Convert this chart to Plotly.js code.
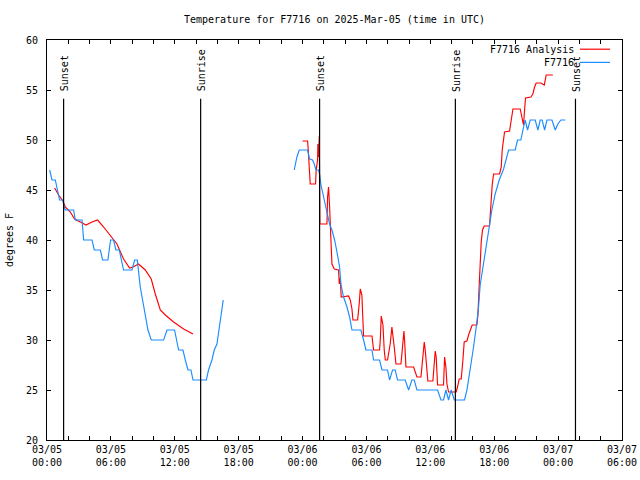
<!DOCTYPE html>
<html><head><meta charset="utf-8">
<script src="https://cdn.plot.ly/plotly-3.0.1.min.js"></script>
<style>body{margin:0;background:#fff;}#chart{width:640px;height:480px;}</style>
</head><body><div id="chart"></div>
<script>
// hours since 2025-03-05 00:00 UTC
const obsHours = [0.25,0.47,0.78,0.87,1.00,1.18,1.50,1.56,1.72,2.50,2.66,3.29,3.44,4.23,4.44,5.01,5.22,5.72,5.97,6.25,6.47,6.79,7.19,7.98,8.23,8.48,8.76,9.07,9.39,9.48,9.79,10.95,11.27,11.98,12.36,12.77,12.99,13.24,13.52,13.71,14.96,15.17,15.49,15.71,15.96,16.18,16.55,
  null,
  23.22,23.47,23.69,24.47,24.66,24.94,25.10,25.26,25.50,25.60,25.73,25.97,26.29,26.54,26.76,27.01,27.23,27.48,27.60,27.85,28.17,28.42,28.64,29.48,29.73,29.95,30.52,30.67,31.23,31.46,31.98,32.17,32.45,32.70,32.92,33.64,33.96,34.27,34.49,34.74,36.68,37.00,37.24,37.46,37.71,37.96,38.25,39.21,39.44,39.75,40.06,40.31,40.53,40.68,41.00,41.30,41.56,41.78,42.09,42.47,42.88,43.35,43.97,44.19,44.50,44.76,44.90,45.13,45.38,45.85,46.10,46.32,46.50,46.73,46.95,47.42,47.73,47.98,48.26,48.67];
const obsTemps = [47.0,46.0,46.0,45.6,45.0,44.0,44.0,43.5,43.0,43.0,42.0,42.0,40.0,40.0,39.0,39.0,38.0,38.0,40.0,40.0,39.0,39.0,37.0,37.0,38.0,38.0,35.3,33.3,31.6,31.0,30.0,30.0,31.0,31.0,29.0,29.0,28.0,27.0,27.0,26.0,26.0,27.0,28.0,29.0,29.6,31.4,34.0,
  null,
  47.0,48.3,49.0,49.0,48.1,48.0,47.6,47.0,47.0,46.6,45.5,44.3,43.0,41.6,41.0,40.0,38.8,37.3,35.6,34.3,33.3,32.3,31.0,31.0,30.0,29.0,29.0,28.0,28.0,27.0,27.0,26.0,27.0,27.0,26.0,26.0,25.0,26.0,26.0,25.0,25.0,24.0,24.0,25.0,24.0,25.0,24.0,24.0,25.0,27.0,29.3,31.3,33.3,35.5,37.6,40.0,41.5,43.0,44.6,46.0,47.1,49.0,49.0,50.0,50.0,51.3,52.0,51.0,52.0,52.0,51.0,52.0,52.0,51.0,52.0,52.0,51.0,51.6,52.0,52.0];

const anaHours = [0.72,1.09,1.50,1.72,2.19,2.59,3.13,3.66,4.23,4.75,5.32,5.94,6.57,7.19,7.76,8.07,8.60,9.23,9.79,10.17,10.64,11.11,11.89,12.83,13.71,
  null,
  24.00,24.47,24.53,24.60,24.72,25.22,25.28,25.41,25.44,25.50,25.57,25.63,26.29,26.35,26.44,26.54,26.60,26.66,26.76,26.98,27.38,27.45,27.54,27.63,28.32,28.48,28.64,28.73,29.17,29.32,29.42,29.57,29.67,29.73,30.52,30.67,31.23,31.30,31.39,31.55,31.67,31.77,31.98,32.23,32.39,32.49,32.61,32.77,33.24,33.33,33.43,33.52,33.58,33.71,34.43,34.58,34.74,35.12,35.30,35.43,35.52,35.58,35.68,35.77,36.24,36.37,36.46,36.55,36.68,37.24,37.34,37.46,37.56,37.71,38.43,38.55,38.71,38.90,38.96,39.06,39.18,39.44,39.59,39.81,39.93,40.37,40.47,40.59,40.69,40.78,40.90,41.06,41.56,41.69,41.81,41.94,42.50,42.66,42.75,42.97,43.44,43.57,43.76,44.44,44.60,44.75,44.85,44.94,45.45,45.63,45.79,45.94,46.38,46.70,46.88,47.51];
const anaTemps = [45.2,44.5,43.9,43.3,42.8,42.1,41.8,41.5,41.8,42.0,41.3,40.5,39.6,38.1,37.2,37.3,37.6,37.0,36.1,34.6,33.0,32.5,31.8,31.1,30.6,
  null,
  49.9,49.9,49.1,47.8,45.6,45.6,47.0,48.0,49.6,48.3,50.4,41.6,41.6,44.3,45.3,43.3,41.3,38.8,37.6,37.1,37.0,35.6,36.2,34.3,34.4,34.0,33.1,32.0,32.0,33.6,35.1,34.5,32.0,30.4,30.4,29.0,29.0,30.0,32.4,31.5,29.0,28.0,28.0,29.6,31.3,30.5,29.3,27.6,27.6,28.6,30.3,30.9,30.0,27.3,27.3,26.8,26.3,26.3,28.0,29.8,29.0,28.0,26.6,25.9,25.9,27.8,28.9,28.3,25.5,25.5,28.3,27.3,25.6,24.8,24.8,25.3,26.1,26.1,26.6,28.0,29.8,29.9,30.5,31.3,31.5,31.5,32.5,35.5,38.3,39.8,41.0,41.4,41.4,44.0,45.5,46.6,46.6,47.3,49.0,50.8,50.9,51.8,53.1,53.1,52.1,51.5,53.0,54.2,54.3,54.6,55.3,55.7,55.7,55.5,56.5,56.5];

const tickHours = [0,6,12,18,24,30,36,42,48,54];
const tickLabels = ['03/05<br>00:00','03/05<br>06:00','03/05<br>12:00','03/05<br>18:00','03/06<br>00:00','03/06<br>06:00','03/06<br>12:00','03/06<br>18:00','03/07<br>00:00','03/07<br>06:00'];
const sunHours = [1.56, 14.43, 25.60, 38.35, 49.63];
const sunLabels = ['Sunset','Sunrise','Sunset','Sunrise','Sunset'];
const seriesNames = ['F7716 Analysis','F7716'];
const seriesColors = ['#ff0000','#1a8cff'];

const FONT = {family:'DejaVu Sans Mono, monospace', size:10, color:'#000'};

const traces = [
  {x: anaHours, y: anaTemps, name: seriesNames[0], mode:'lines', line:{color:seriesColors[0], width:1.15}, connectgaps:false, showlegend:false},
  {x: obsHours, y: obsTemps, name: seriesNames[1], mode:'lines', line:{color:seriesColors[1], width:1.15}, connectgaps:false, showlegend:false}
];

const shapes = [];
const annotations = [];
sunHours.forEach((h,i) => {
  shapes.push({type:'line', xref:'x', yref:'paper', x0:h, x1:h, y0:0, y1:0.853, line:{color:'#000', width:1.2}});
  annotations.push({xref:'x', yref:'paper', x:h, y:0.866, text:sunLabels[i], textangle:-90, showarrow:false, xanchor:'center', yanchor:'bottom', font:FONT, xshift:1});
});
// legend (gnuplot style: text then sample)
const legY = [0.977, 0.944];
seriesNames.forEach((n,i) => {
  annotations.push({xref:'paper', yref:'paper', x:0.9195, y:legY[i], text:n, showarrow:false, xanchor:'right', yanchor:'middle', font:FONT});
  shapes.push({type:'line', xref:'paper', yref:'paper', x0:0.927, x1:0.979, y0:legY[i], y1:legY[i], line:{color:seriesColors[i], width:1.2}});
});

const layout = {
  width:640, height:480,
  margin:{l:47, r:18, t:40, b:40, pad:0},
  paper_bgcolor:'#fff', plot_bgcolor:'#fff',
  font: FONT,
  title:{text:'Temperature for F7716 on 2025-Mar-05 (time in UTC)', font:FONT, x:0.5, xref:'paper', xanchor:'center', y:1-19/480, yref:'container', yanchor:'middle'},
  xaxis:{range:[0,54], tickmode:'array', tickvals:tickHours, ticktext:tickLabels, ticks:'inside', ticklen:4, tickcolor:'#000', tickwidth:1,
    showline:true, linecolor:'#000', linewidth:1, mirror:'allticks', showgrid:false, zeroline:false, tickfont:FONT,
    minor:{tickmode:'linear', tick0:0, dtick:2, ticks:'inside', ticklen:4, tickcolor:'#000', showgrid:false}},
  yaxis:{range:[20,60], tickmode:'linear', tick0:20, dtick:5, ticks:'inside', ticklen:4, tickcolor:'#000', tickwidth:1,
    showline:true, linecolor:'#000', linewidth:1, mirror:'allticks', showgrid:false, zeroline:false, tickfont:FONT, ticklabelstandoff:6,
    title:{text:'degrees F', font:FONT, standoff:10}},
  shapes: shapes,
  annotations: annotations,
  showlegend:false
};

Plotly.newPlot('chart', traces, layout, {staticPlot:true, displayModeBar:false});
</script>
</body></html>
